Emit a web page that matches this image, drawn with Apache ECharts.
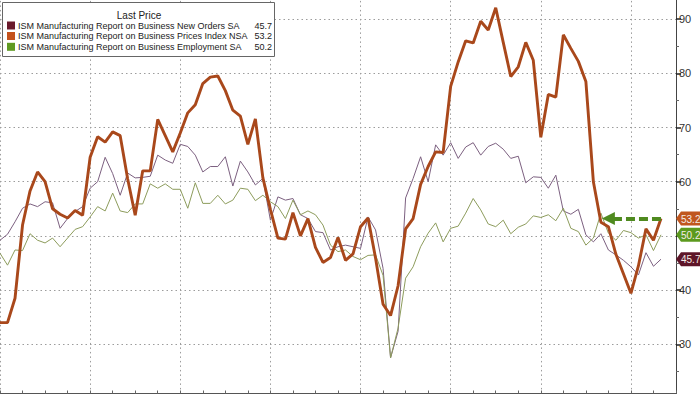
<!DOCTYPE html>
<html><head><meta charset="utf-8">
<script src="https://cdn.jsdelivr.net/npm/echarts@6/dist/echarts.min.js"></script>
<style>html,body{margin:0;padding:0;background:#fff}#c{width:700px;height:394px}</style>
</head><body><div id="c"></div>
<script>
// Monthly categories: Dec 2015 .. Jun 2023 (last 2 months empty padding)
const months = (function(){ const a=[]; for(let k=0;k<91;k++){ const m=(11+k)%12+1; const y=2015+Math.floor((11+k)/12); a.push(y+'-'+String(m).padStart(2,'0')); } return a; })();

const seriesNames = [
  'ISM Manufacturing Report on Business New Orders SA',
  'ISM Manufacturing Report on Business Prices Index NSA',
  'ISM Manufacturing Report on Business Employment SA'
];
const lastValues = ['45.7','53.2','50.2'];
// "50" is hidden under the value tags in the reference
const yTickLabels = ['30','40','60','70','80','90'];

const newOrders = [
  49.2,50.3,52.6,55.1,55.9,55.4,56.3,56.1,51.4,53.2,54.5,55.4,
  58.8,60.0,64.5,61.5,57.5,61.6,60.7,60.8,61.0,64.9,64.0,63.4,
  66.9,66.5,64.9,61.8,62.8,62.8,64.6,59.2,63.8,61.8,59.4,60.6,
  52.9,57.2,56.6,56.9,53.9,53.2,50.8,50.6,47.4,48.0,48.3,48.0,
  47.7,53.5,51.1,44.0,27.5,32.4,57.0,60.6,64.6,60.0,66.8,64.9,
  67.2,64.3,66.4,67.2,64.9,66.5,67.1,66.0,64.3,64.7,59.8,60.9,
  60.8,58.8,61.2,54.6,54.0,54.9,50.2,48.9,50.4,47.4,46.5,45.5,
  44.3,42.8,46.9,44.4,45.7
];
const prices = [
  34.0,34.0,38.5,52.0,58.3,61.8,60.0,55.0,54.0,53.3,54.7,53.8,
  64.5,68.3,67.3,69.2,68.5,60.5,53.8,62.0,62.0,71.5,68.5,65.5,
  69.0,72.7,74.2,78.1,79.3,79.5,76.8,73.2,72.1,66.9,71.6,60.7,
  54.9,49.6,49.4,54.3,50.0,53.2,47.9,45.1,46.0,49.7,45.5,46.7,
  51.7,53.3,45.9,37.4,35.3,40.8,51.3,53.2,59.5,62.8,65.5,65.4,
  77.6,82.1,86.0,85.6,89.6,88.0,92.1,85.7,79.4,81.2,85.7,82.4,
  68.2,76.1,75.6,87.1,84.6,82.2,78.5,60.0,52.5,51.7,46.6,43.0,
  39.4,44.5,51.3,49.2,53.2
];
const employment = [
  46.8,44.6,47.4,47.3,50.4,49.2,48.7,49.6,48.0,49.6,51.2,51.7,
  53.5,55.4,54.6,57.9,54.6,54.3,55.9,55.9,59.6,58.8,59.6,58.6,
  58.6,55.1,59.8,56.0,56.0,57.5,55.9,56.6,58.8,58.6,56.5,57.5,
  56.3,55.4,53.2,56.6,53.9,54.6,53.9,52.0,48.3,47.1,47.4,46.2,
  45.6,46.4,46.5,42.7,27.5,33.0,42.2,44.3,48.0,50.5,52.4,48.9,
  51.4,51.8,54.2,56.9,54.8,52.2,51.7,52.9,50.4,51.6,52.2,53.7,
  53.4,53.9,52.8,55.1,51.4,50.8,48.3,49.6,54.2,50.5,49.2,51.0,
  50.6,49.6,50.2,47.3,50.2
];

const legendColors = ['#6a1a2c','#c4521c','#5f9a22'];
const lineColors = ['#7c6080','#a9481b','#8d9c5c'];
const tagColors = ['#5e1528','#c0561e','#5c9a1e'];
const lastNums = [45.7, 53.2, 50.2];

const FONT = 'Liberation Sans';
const chart = echarts.init(document.getElementById('c'), null, {renderer:'svg'});

const gridStyle = {show:true, lineStyle:{color:'#9c9c9c', type:[1.5,3], width:1}};

const option = {
  backgroundColor:'#fff',
  animation:false,
  grid:{left:0, right:24, top:-35.1, bottom:-4.5, containLabel:false, outerBoundsMode:'none'},
  xAxis:{
    type:'category', data:months, boundaryGap:false, offset:-5,
    axisLine:{show:true, onZero:false, lineStyle:{color:'#555'}},
    axisTick:{show:true, inside:true, length:3, interval:(i)=>i%3===0, lineStyle:{color:'#666'}},
    axisLabel:{show:false},
    splitLine:Object.assign({interval:(i)=>i%12===0}, gridStyle)
  },
  yAxis:{
    type:'value', position:'right', min:20, max:100, interval:10,
    axisLine:{show:true, lineStyle:{color:'#444'}},
    axisTick:{show:true, length:5, lineStyle:{color:'#222', width:1.5}},
    minorTick:{show:true, splitNumber:2, length:3, lineStyle:{color:'#666'}},
    axisLabel:{color:'#333', fontSize:11, fontFamily:FONT, margin:3,
      formatter:(v)=> yTickLabels.indexOf(String(v))>=0 ? String(v) : ''},
    splitLine:gridStyle
  },
  series:[
    {name:seriesNames[0], type:'line', data:newOrders, symbol:'none', lineStyle:{color:lineColors[0], width:1}, z:2},
    {name:seriesNames[2], type:'line', data:employment, symbol:'none', lineStyle:{color:lineColors[2], width:1}, z:3},
    {name:seriesNames[1], type:'line', data:prices, symbol:'none', lineStyle:{color:lineColors[1], width:2.9}, z:4,
      markLine:{
        silent:true, animation:false,
        symbol:['none','triangle'], symbolSize:[13,13],
        label:{show:false},
        lineStyle:{color:'#4f8a1f', width:4, type:[9,4]},
        data:[[{coord:[88,53.2]},{coord:[81.1,53.2]}]]
      }}
  ]
};
chart.setOption(option);

// Legend box and axis value tags
const g = [];
g.push({type:'rect', shape:{x:2.5,y:2.5,width:272,height:54}, style:{fill:'#fff', stroke:'#666', lineWidth:1}, z:50});
g.push({type:'text', x:139, y:15, style:{text:'Last Price', fontSize:10, fontFamily:FONT, fill:'#222', align:'center', verticalAlign:'middle'}, z:51});
const rowY = [25.5, 36, 46.8];
for (let k=0;k<3;k++){
  g.push({type:'rect', shape:{x:7,y:rowY[k]-4,width:8,height:8}, style:{fill:legendColors[k]}, z:51});
  g.push({type:'text', x:18, y:rowY[k], style:{text:seriesNames[k], fontSize:9, fontFamily:FONT, fill:'#222', verticalAlign:'middle'}, z:51});
  g.push({type:'text', x:272, y:rowY[k], style:{text:lastValues[k], fontSize:9, fontFamily:FONT, fill:'#222', align:'right', verticalAlign:'middle'}, z:51});
}
const xr = chart.convertToPixel({xAxisIndex:0}, 90);
for (let k=0;k<3;k++){
  const y = chart.convertToPixel({yAxisIndex:0}, lastNums[k]);
  const x0 = xr;
  g.push({type:'polygon', shape:{points:[[x0,y],[x0+5,y-7],[x0+40,y-7],[x0+40,y+7],[x0+5,y+7]]}, style:{fill:tagColors[k]}, z:60});
  g.push({type:'text', x:x0+5, y:y+0.5, style:{text:lastValues[k], fontSize:10, fontFamily:FONT, fill:'#f4ece6', verticalAlign:'middle'}, z:61});
}
chart.setOption({graphic:g});
</script></body></html>
